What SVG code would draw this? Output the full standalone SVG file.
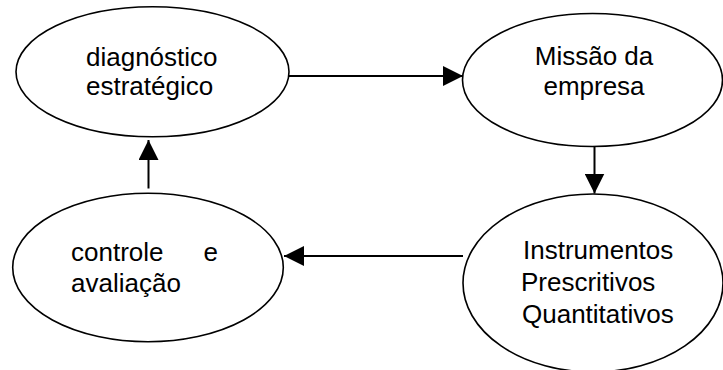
<svg xmlns="http://www.w3.org/2000/svg" width="723" height="370" viewBox="0 0 723 370">
<style>
.node ellipse{fill:#fff;stroke:#000;stroke-width:1.6}
.node text{font-family:"Liberation Sans",Arial,sans-serif;font-size:26px;fill:#000}
.conn line{stroke:#000;stroke-width:2}
</style>
<defs>
<marker id="ah" markerUnits="userSpaceOnUse" markerWidth="20" markerHeight="20" viewBox="0 0 19 19" refX="19" refY="9.5" orient="auto">
<path d="M0,0 L19,9.5 L0,19 Z" fill="#000"/>
</marker>
</defs>
<rect width="723" height="370" fill="#fff"/>
<g id="n1" class="node">
<ellipse cx="152.5" cy="71.8" rx="136.5" ry="65"/>
<text x="86" y="66">diagnóstico</text>
<text x="86" y="95">estratégico</text>
</g>
<g id="n2" class="node">
<ellipse cx="592.5" cy="80" rx="130" ry="66.5"/>
<text x="594" y="65" text-anchor="middle">Missão da</text>
<text x="594" y="95" text-anchor="middle">empresa</text>
</g>
<g id="n3" class="node">
<ellipse cx="593" cy="283" rx="130" ry="89"/>
<text x="523" y="259">Instrumentos</text>
<text x="521" y="291">Prescritivos</text>
<text x="522" y="323">Quantitativos</text>
</g>
<g id="n4" class="node">
<ellipse cx="148" cy="267.5" rx="135.3" ry="74.2"/>
<text x="71" y="261">controle</text>
<text x="218" y="261" text-anchor="end">e</text>
<text x="71" y="292">avaliação</text>
</g>
<g id="connectors" class="conn">
<line x1="289" y1="76" x2="463" y2="76" marker-end="url(#ah)"/>
<line x1="594.5" y1="146.5" x2="594.5" y2="193.5" marker-end="url(#ah)"/>
<line x1="463" y1="256" x2="284" y2="256" marker-end="url(#ah)"/>
<line x1="148.5" y1="188.5" x2="148.5" y2="140" marker-end="url(#ah)"/>
</g>
</svg>
